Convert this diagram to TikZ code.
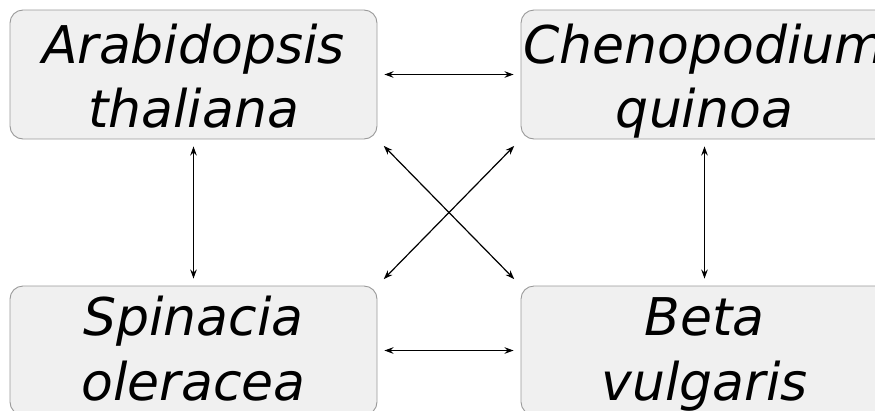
\documentclass[tikz,border=0pt]{standalone}
\usepackage{fontspec}
\setmainfont{DejaVu Sans}
\usetikzlibrary{arrows.meta}
\begin{document}
\begin{tikzpicture}[x=1pt,y=-1pt,
  species/.style={draw=black!40, fill=black!6, line width=0.9pt, rounded corners=13pt,
    minimum width=367pt, minimum height=129pt, inner sep=0pt},
  word/.style={anchor=base, inner sep=0pt, font=\fontsize{52}{64}\selectfont\itshape},
  link/.style={line width=1.2pt, {Stealth[length=9pt,width=6.5pt]}-{Stealth[length=9pt,width=6.5pt]},
    shorten <=7pt, shorten >=7pt}]
\useasboundingbox (0,0) rectangle (875,410);
\clip (0,0) rectangle (875,410);
\node[species] (tl) at (193.5,74.5) {};
\node[species] (tr) at (704.5,74.5) {};
\node[species] (bl) at (193.5,350.5) {};
\node[species] (br) at (704.5,350.5) {};
\node[word] (tla) at (193.5,63) {Arabidopsis};
\node[word] (tlb) at (193.5,127) {thaliana};
\node[word] (tra) at (704.5,63) {Chenopodium};
\node[word] (trb) at (704.5,127) {quinoa};
\node[word] (bla) at (193.5,335) {Spinacia};
\node[word] (blb) at (193.5,400) {oleracea};
\node[word] (bra) at (704.5,335) {Beta};
\node[word] (brb) at (704.5,400) {vulgaris};
\draw[link] (tl) -- (tr);
\draw[link] (bl) -- (br);
\draw[link] (tl) -- (bl);
\draw[link] (tr) -- (br);
\draw[link, shorten <=9pt, shorten >=9pt] (tl.south east) -- (br.north west);
\draw[link, shorten <=9pt, shorten >=9pt] (tr.south west) -- (bl.north east);
\end{tikzpicture}
\end{document}
